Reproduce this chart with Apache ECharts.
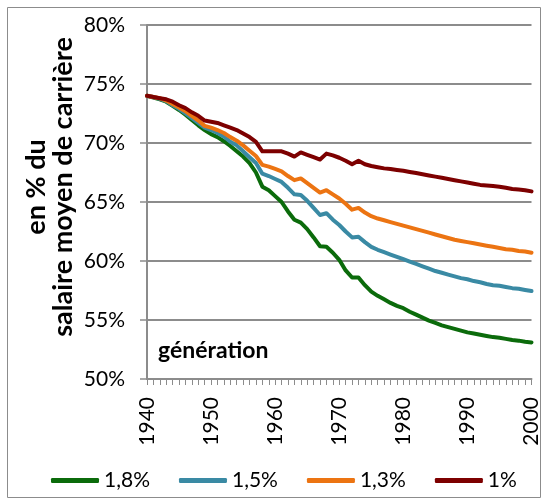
<!DOCTYPE html>
<html>
<head>
<meta charset="utf-8">
<script src="https://cdn.jsdelivr.net/npm/echarts@6/dist/echarts.min.js"></script>
<style>html,body{margin:0;padding:0;background:#fff}#c{width:542px;height:499px}</style>
</head>
<body>
<div id="c"></div>
<script>
var years = [];
for (var y = 1940; y <= 2000; y++) years.push(String(y));

var seriesNames = ['1,8%', '1,5%', '1,3%', '1%'];

var s18 = [74.0,73.85,73.7,73.5,73.15,72.8,72.4,71.95,71.5,71.1,
  70.75,70.5,70.15,69.75,69.3,68.85,68.3,67.5,66.3,66.0,
  65.5,65.0,64.2,63.5,63.25,62.7,62.0,61.25,61.2,60.7,
  60.1,59.2,58.6,58.6,57.95,57.4,57.05,56.75,56.45,56.2,
  56.0,55.7,55.45,55.2,54.95,54.75,54.55,54.4,54.25,54.1,
  53.95,53.85,53.75,53.65,53.55,53.5,53.4,53.3,53.25,53.15,53.1];

var s15 = [74.0,73.9,73.75,73.55,73.2,72.9,72.5,72.1,71.7,71.3,
  71.1,70.85,70.55,70.1,69.8,69.3,68.8,68.3,67.4,67.2,
  66.95,66.7,66.2,65.65,65.6,65.1,64.5,63.9,64.05,63.5,
  63.05,62.5,62.0,62.05,61.6,61.2,60.95,60.75,60.55,60.35,
  60.15,59.95,59.75,59.55,59.35,59.15,59.0,58.85,58.7,58.55,
  58.45,58.3,58.2,58.05,57.95,57.9,57.8,57.7,57.65,57.55,57.45];

var s13 = [74.0,73.9,73.8,73.6,73.3,73.0,72.7,72.3,71.9,71.45,
  71.3,71.1,70.85,70.5,70.2,69.8,69.35,68.9,68.15,68.0,
  67.8,67.6,67.2,66.85,67.0,66.6,66.2,65.8,66.0,65.65,
  65.3,64.85,64.35,64.5,64.1,63.8,63.6,63.45,63.3,63.15,
  63.0,62.85,62.7,62.55,62.4,62.25,62.1,61.95,61.8,61.7,
  61.6,61.5,61.4,61.3,61.2,61.1,61.0,60.95,60.85,60.8,60.7];

var s10 = [74.0,73.9,73.8,73.7,73.5,73.2,72.95,72.6,72.3,71.9,
  71.8,71.7,71.5,71.3,71.1,70.8,70.5,70.1,69.3,69.3,
  69.3,69.3,69.1,68.85,69.2,69.0,68.8,68.6,69.1,68.95,
  68.75,68.5,68.2,68.5,68.2,68.05,67.95,67.85,67.8,67.72,
  67.65,67.55,67.45,67.35,67.25,67.15,67.05,66.95,66.85,66.75,
  66.65,66.55,66.45,66.4,66.35,66.3,66.2,66.1,66.05,66.0,65.9];

var yTicks = [50, 55, 60, 65, 70, 75, 80];

var colors = ['#0b6b0b', '#3a8aa4', '#ec7412', '#7d0000'];
var values = [s18, s15, s13, s10];

var chart = echarts.init(document.getElementById('c'), null, {renderer: 'canvas'});
var FONT = 'Lato';

var series = seriesNames.map(function (n, i) {
  return {
    name: n, type: 'line', data: values[i], symbol: 'none', smooth: false,
    lineStyle: {color: colors[i], width: 4, join: 'round', cap: 'round'},
    itemStyle: {color: colors[i]}, z: 2 + i
  };
});

chart.setOption({
  animation: false,
  backgroundColor: '#fff',
  color: colors,
  grid: {left: 147, right: 8, top: 25, bottom: 120, containLabel: false},
  xAxis: {
    type: 'category', data: years, boundaryGap: false,
    axisLine: {lineStyle: {color: '#8c8c8c', width: 2}},
    axisTick: {interval: 0, length: 6, lineStyle: {color: '#8c8c8c', width: 1}},
    axisLabel: {
      interval: function (idx, val) { return (+val) % 10 === 0; },
      rotate: 90, margin: 18, color: '#000', fontFamily: FONT, fontSize: 21
    },
    splitLine: {show: false}
  },
  yAxis: {
    type: 'value', min: yTicks[0], max: yTicks[yTicks.length - 1], interval: 5,
    axisLine: {show: true, lineStyle: {color: '#8c8c8c', width: 2}},
    axisTick: {show: true, length: 7, lineStyle: {color: '#8c8c8c', width: 1.5}},
    axisLabel: {formatter: '{value}%', margin: 22, color: '#000', fontFamily: FONT, fontSize: 21},
    splitLine: {lineStyle: {color: '#8c8c8c', width: 2}}
  },
  legend: {
    data: seriesNames, left: 46, top: 465, itemWidth: 48, itemHeight: 5, itemGap: 29,
    icon: 'roundRect',
    textStyle: {color: '#000', fontFamily: FONT, fontSize: 21, padding: [0, 0, 0, 0]}
  },
  graphic: [
    {type: 'rect', shape: {x: 7.5, y: 7.5, width: 533, height: 490}, style: {fill: null, stroke: '#8c8c8c', lineWidth: 1}, silent: true, z: -1},
    {type: 'text', x: 50, y: 187, rotation: Math.PI / 2, style: {
      text: 'en % du\nsalaire moyen de carrière', fill: '#000', font: 'bold 27px ' + FONT,
      align: 'center', verticalAlign: 'middle', lineHeight: 27}},
    {type: 'text', x: 158, y: 351, style: {text: 'génération', fill: '#000', font: 'bold 23px ' + FONT, align: 'left', verticalAlign: 'middle'}}
  ],
  series: series
});
</script>
</body>
</html>
